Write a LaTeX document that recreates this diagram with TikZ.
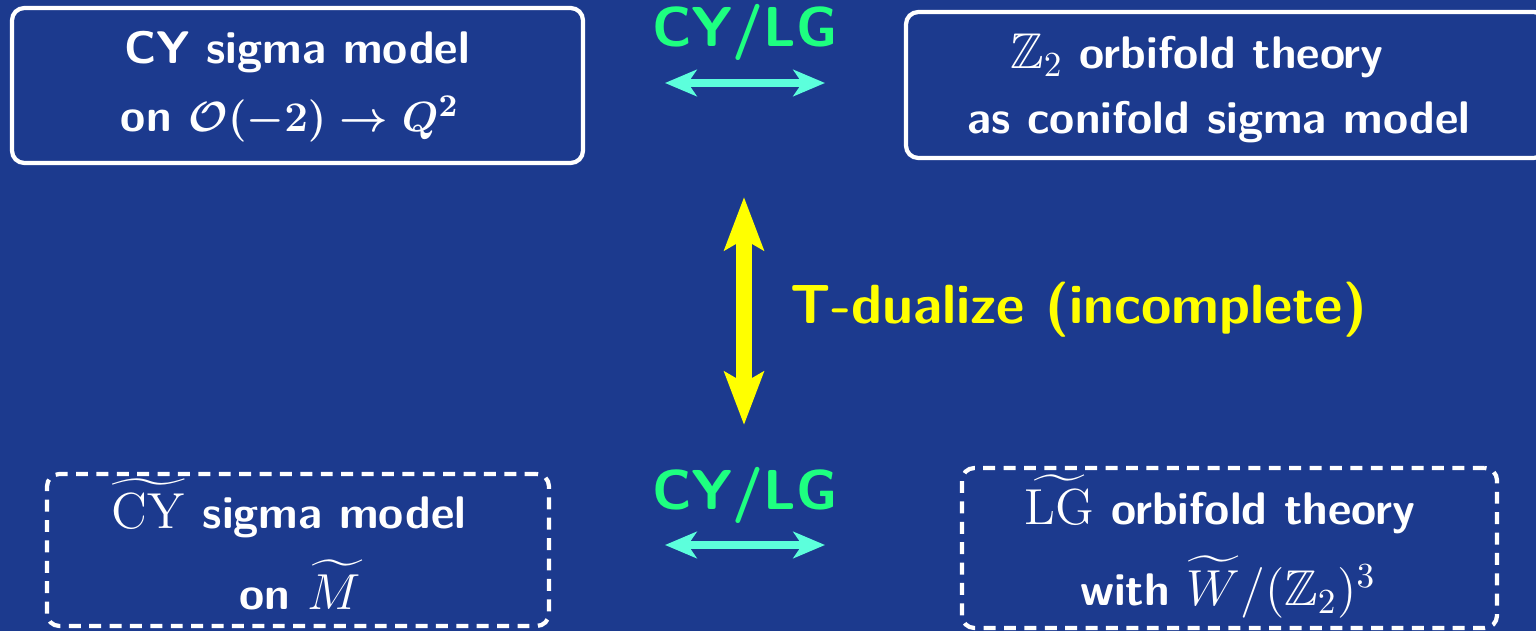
\documentclass[tikz,border=0pt]{standalone}
\usepackage{amsmath,amssymb}
\usetikzlibrary{arrows.meta}
\definecolor{bg}{RGB}{28,58,142}
\definecolor{cylg}{RGB}{30,255,128}
\definecolor{harrow}{RGB}{92,255,220}
\definecolor{tyellow}{RGB}{255,255,0}
\newcommand{\bm}[1]{{\fontsize{14.3}{16}\selectfont#1}}
\newcommand{\bmtop}[1]{{\fontsize{13.2}{16}\selectfont#1}}
\tikzset{
  solidbox/.style={draw=white, line width=1.2pt, rounded corners=3.5pt, inner sep=0pt},
  dashbox/.style={draw=white, line width=1.2pt, rounded corners=3.5pt, inner sep=0pt, dash pattern=on 3.4pt off 2.4pt},
  boxtext/.style={text=white, font=\fontsize{13}{15}\selectfont\sffamily\bfseries, inner sep=0pt, anchor=base},
  bigtext/.style={font=\fontsize{16}{18}\selectfont\sffamily\bfseries, inner sep=0pt, anchor=base},
  hdouble/.style={harrow, line width=2.3pt, {Stealth[length=9pt,width=7.5pt,inset=2.5pt]}-{Stealth[length=9pt,width=7.5pt,inset=2.5pt]}},
  vdouble/.style={tyellow, line width=4.3pt, {Stealth[length=15pt,width=11pt,inset=3pt]}-{Stealth[length=15pt,width=11pt,inset=3pt]}}
}
\begin{document}
\begin{tikzpicture}[x=0.01cm,y=-0.01cm]
\fill[bg] (0,0) rectangle (1536,631);
\useasboundingbox (0,0) rectangle (1536,631);
% boxes
\node[solidbox, minimum width=571*0.01cm, minimum height=155*0.01cm] (tl) at (297.5,85.5) {};
\node[solidbox, minimum width=640*0.01cm, minimum height=146*0.01cm] (tr) at (1226,85) {};
\node[dashbox, minimum width=502*0.01cm, minimum height=152*0.01cm] (bl) at (298,550) {};
\node[dashbox, minimum width=535*0.01cm, minimum height=160*0.01cm] (br) at (1229.5,548) {};
% texts
\node[boxtext] (tl1) at (297,64) {CY sigma model};
\node[boxtext] (tl2) at (290,132) {on \bmtop{\boldmath$\mathcal{O}(-2)\to Q^2$}};
\node[boxtext] (tr1) at (1197,69) {\bm{$\mathbb{Z}_2$} orbifold theory};
\node[boxtext] (tr2) at (1219,134) {as conifold sigma model};
\node[boxtext] (bl1) at (289,529) {\bm{$\widetilde{\mathrm{CY}}$} sigma model};
\node[boxtext] (bl2) at (300,610) {on \bm{$\widetilde{M}$}};
\node[boxtext] (br1) at (1220,525) {\bm{$\widetilde{\mathrm{LG}}$} orbifold theory};
\node[boxtext] (br2) at (1228,606) {with \bm{$\widetilde{W}/(\mathbb{Z}_2)^3$}};
% CY/LG labels
\node[bigtext, text=cylg] (cy1) at (745,47) {CY/LG};
\node[bigtext, text=cylg] (cy2) at (745,510) {CY/LG};
\coordinate (a1l) at (665,83);
\coordinate (a1r) at (825,83);
\coordinate (a2l) at (665,545);
\coordinate (a2r) at (825,545);
\draw[hdouble] (a1l) -- (a1r);
\draw[hdouble] (a2l) -- (a2r);
% T-dualize
\coordinate (vt) at (744,197);
\coordinate (vb) at (744,425);
\draw[vdouble] (vt) -- (vb);
\node[bigtext, text=tyellow, anchor=base west, font=\fontsize{15.7}{18}\selectfont\sffamily\bfseries] (td) at (790,324) {T-dualize (incomplete)};
\end{tikzpicture}
\end{document}
